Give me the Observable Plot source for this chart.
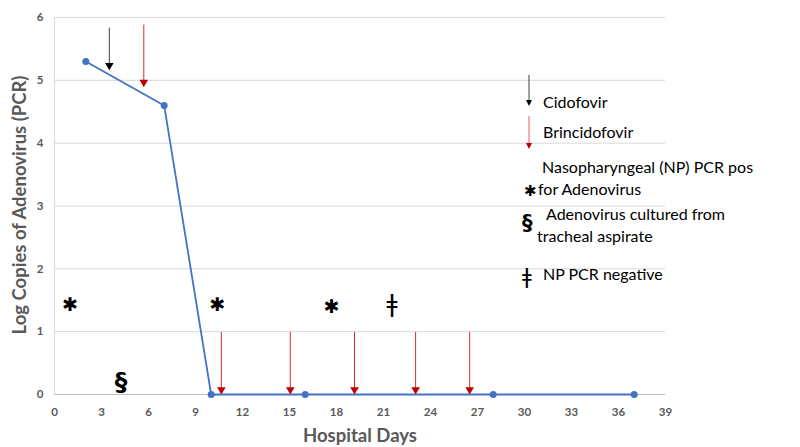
<!DOCTYPE html>
<html>
<head>
<meta charset="utf-8">
<script src="https://cdn.jsdelivr.net/npm/d3@7"></script>
<script src="https://cdn.jsdelivr.net/npm/@observablehq/plot@0.6"></script>
<style>
  html, body { margin: 0; padding: 0; background: #fff; }
  #wrap { position: relative; width: 800px; height: 447px; font-family: Lato, "Open Sans", sans-serif; }
  #legend { position: absolute; left: 0; top: 0; width: 800px; height: 447px; pointer-events: none; }
</style>
</head>
<body>
<div id="wrap"><div id="chart"></div><svg id="legend" width="800" height="447"></svg></div>
<script>
// Viral load series
const days = [2, 7, 10, 16, 28, 37];
const logCopies = [5.3, 4.6, 0, 0, 0, 0];

// Cidofovir dose (black arrows)
const cidoDays = [3.5];
const cidoFrom = [5.83];
const cidoTo = [5.19];

// Brincidofovir doses (red arrows)
const brinDays = [5.7, 10.65, 15.05, 19.15, 23.05, 26.5];
const brinFrom = [5.88, 0.99, 0.99, 0.99, 0.99, 0.99];
const brinTo = [4.92, 0.03, 0.03, 0.03, 0.03, 0.03];

// Event symbols
const symDays = [1.0, 10.4, 17.7, 4.25, 21.55];
const symY = [1.43, 1.43, 1.39, 0.22, 1.45];
const symText = ["✱", "✱", "✱", "§", "ǂ"];

const xTicks = d3.range(0, 40, 3);
const yTicks = [0, 1, 2, 3, 4, 5, 6];

const legendItems = ["Cidofovir", "Brincidofovir", "Nasopharyngeal (NP) PCR pos", "for Adenovirus", "Adenovirus cultured from", "tracheal aspirate", "NP PCR negative"];
const xLabel = "Hospital Days";
const yLabel = "Log Copies of Adenovirus (PCR)";

const series = days.map((d, i) => ({day: d, v: logCopies[i]}));
const cido = cidoDays.map((d, i) => ({day: d, y1: cidoFrom[i], y2: cidoTo[i]}));
const brin = brinDays.map((d, i) => ({day: d, y1: brinFrom[i], y2: brinTo[i]}));
const syms = symDays.map((d, i) => ({day: d, y: symY[i], t: symText[i]}));

const BLUE = "#4472C4", RED = "#C00000", GRID = "#d9d9d9", LABEL = "#595959";

const chart = Plot.plot({
  width: 800, height: 447,
  marginLeft: 54, marginRight: 135, marginTop: 17, marginBottom: 53,
  style: {fontFamily: "Lato, 'Open Sans', sans-serif", fontSize: "11px", color: LABEL, background: "white"},
  x: {domain: [0, 39], ticks: xTicks, tickSize: 0, label: null},
  y: {domain: [0, 6], ticks: yTicks, tickSize: 0, label: null},
  marks: [
    Plot.gridY(yTicks, {stroke: GRID, strokeOpacity: 1, strokeWidth: 1}),
    Plot.ruleX([0], {stroke: GRID, strokeWidth: 1}),
    Plot.ruleY([0], {stroke: "#bfbfbf", strokeWidth: 1}),
    Plot.axisX({ticks: xTicks, tickSize: 0, tickPadding: 13, fontSize: 11.5, fill: LABEL, fontWeight: "bold", tickFormat: d3.format("d"), label: null}),
    Plot.axisY({ticks: yTicks, tickSize: 0, tickPadding: 11, fontSize: 11.5, fill: LABEL, fontWeight: "bold", tickFormat: d3.format("d"), label: null}),
    Plot.line(series, {x: "day", y: "v", stroke: BLUE, strokeWidth: 1.8}),
    Plot.dot(series, {x: "day", y: "v", fill: BLUE, r: 3.5, stroke: "none"}),
    Plot.ruleX(cido, {x: "day", y1: "y1", y2: "y2", stroke: "#404040", strokeWidth: 1}),
    Plot.dot(cido, {x: "day", y: "y2", symbol: "triangle", rotate: 180, r: 3.2, fill: "#000", stroke: "none", dy: -3}),
    Plot.ruleX(brin, {x: "day", y1: "y1", y2: "y2", stroke: "#d03030", strokeWidth: 1}),
    Plot.dot(brin, {x: "day", y: "y2", symbol: "triangle", rotate: 180, r: 3.2, fill: RED, stroke: "none", dy: -3}),
    Plot.text(syms.filter(d => d.t === "✱"), {x: "day", y: "y", text: "t", fontSize: 19, fill: "#000", fontFamily: "DejaVu Sans"}),
    Plot.text(syms.filter(d => d.t === "§"), {x: "day", y: "y", text: "t", fontSize: 25, fontWeight: "bold", fill: "#000", fontFamily: "DejaVu Sans", dy: 1}),
    Plot.text(syms.filter(d => d.t === "ǂ"), {x: "day", y: "y", text: "t", fontSize: 24, fill: "#000", fontFamily: "DejaVu Sans", dy: 1})
  ]
});
document.getElementById("chart").appendChild(chart);

// Axis titles
const svg = d3.select(chart);
svg.append("text").attr("x", 360).attr("y", 442).attr("text-anchor", "middle")
  .attr("font-size", 18.5).attr("font-weight", "bold").attr("fill", LABEL).text(xLabel);
svg.append("text").attr("transform", "translate(26,205) rotate(-90)").attr("text-anchor", "middle")
  .attr("font-size", 18.5).attr("font-weight", "bold").attr("fill", LABEL).text(yLabel);

// Legend overlay
const lg = d3.select("#legend");
const fs = 16;
function arrow(x, y1, y2, stroke, fill) {
  lg.append("line").attr("x1", x).attr("x2", x).attr("y1", y1).attr("y2", y2 - 4).attr("stroke", stroke).attr("stroke-width", 1);
  lg.append("path").attr("d", `M${x - 3},${y2 - 6} L${x + 3},${y2 - 6} L${x},${y2} Z`).attr("fill", fill);
}
arrow(529, 75, 106, "#404040", "#000");
arrow(529, 116, 149, "#e06060", RED);
function t(x, y, s) {
  lg.append("text").attr("x", x).attr("y", y).attr("font-size", fs)
    .attr("fill", "#000").attr("font-family", "Lato, 'Open Sans', sans-serif").text(s);
}
t(543, 108, legendItems[0]);
t(543, 138, legendItems[1]);
t(542, 173, legendItems[2]);
t(538, 195, legendItems[3]);
lg.append("text").attr("x", 524).attr("y", 196).attr("font-size", 15).attr("font-family", "DejaVu Sans").text("✱");
lg.append("text").attr("x", 522).attr("y", 230).attr("font-size", 21).attr("font-weight", "bold").attr("font-family", "DejaVu Sans").text("§");
t(546, 220, legendItems[4]);
t(537, 242, legendItems[5]);
lg.append("text").attr("x", 522).attr("y", 284).attr("font-size", 21).attr("font-family", "DejaVu Sans").text("ǂ");
t(543, 280, legendItems[6]);
</script>
</body>
</html>
